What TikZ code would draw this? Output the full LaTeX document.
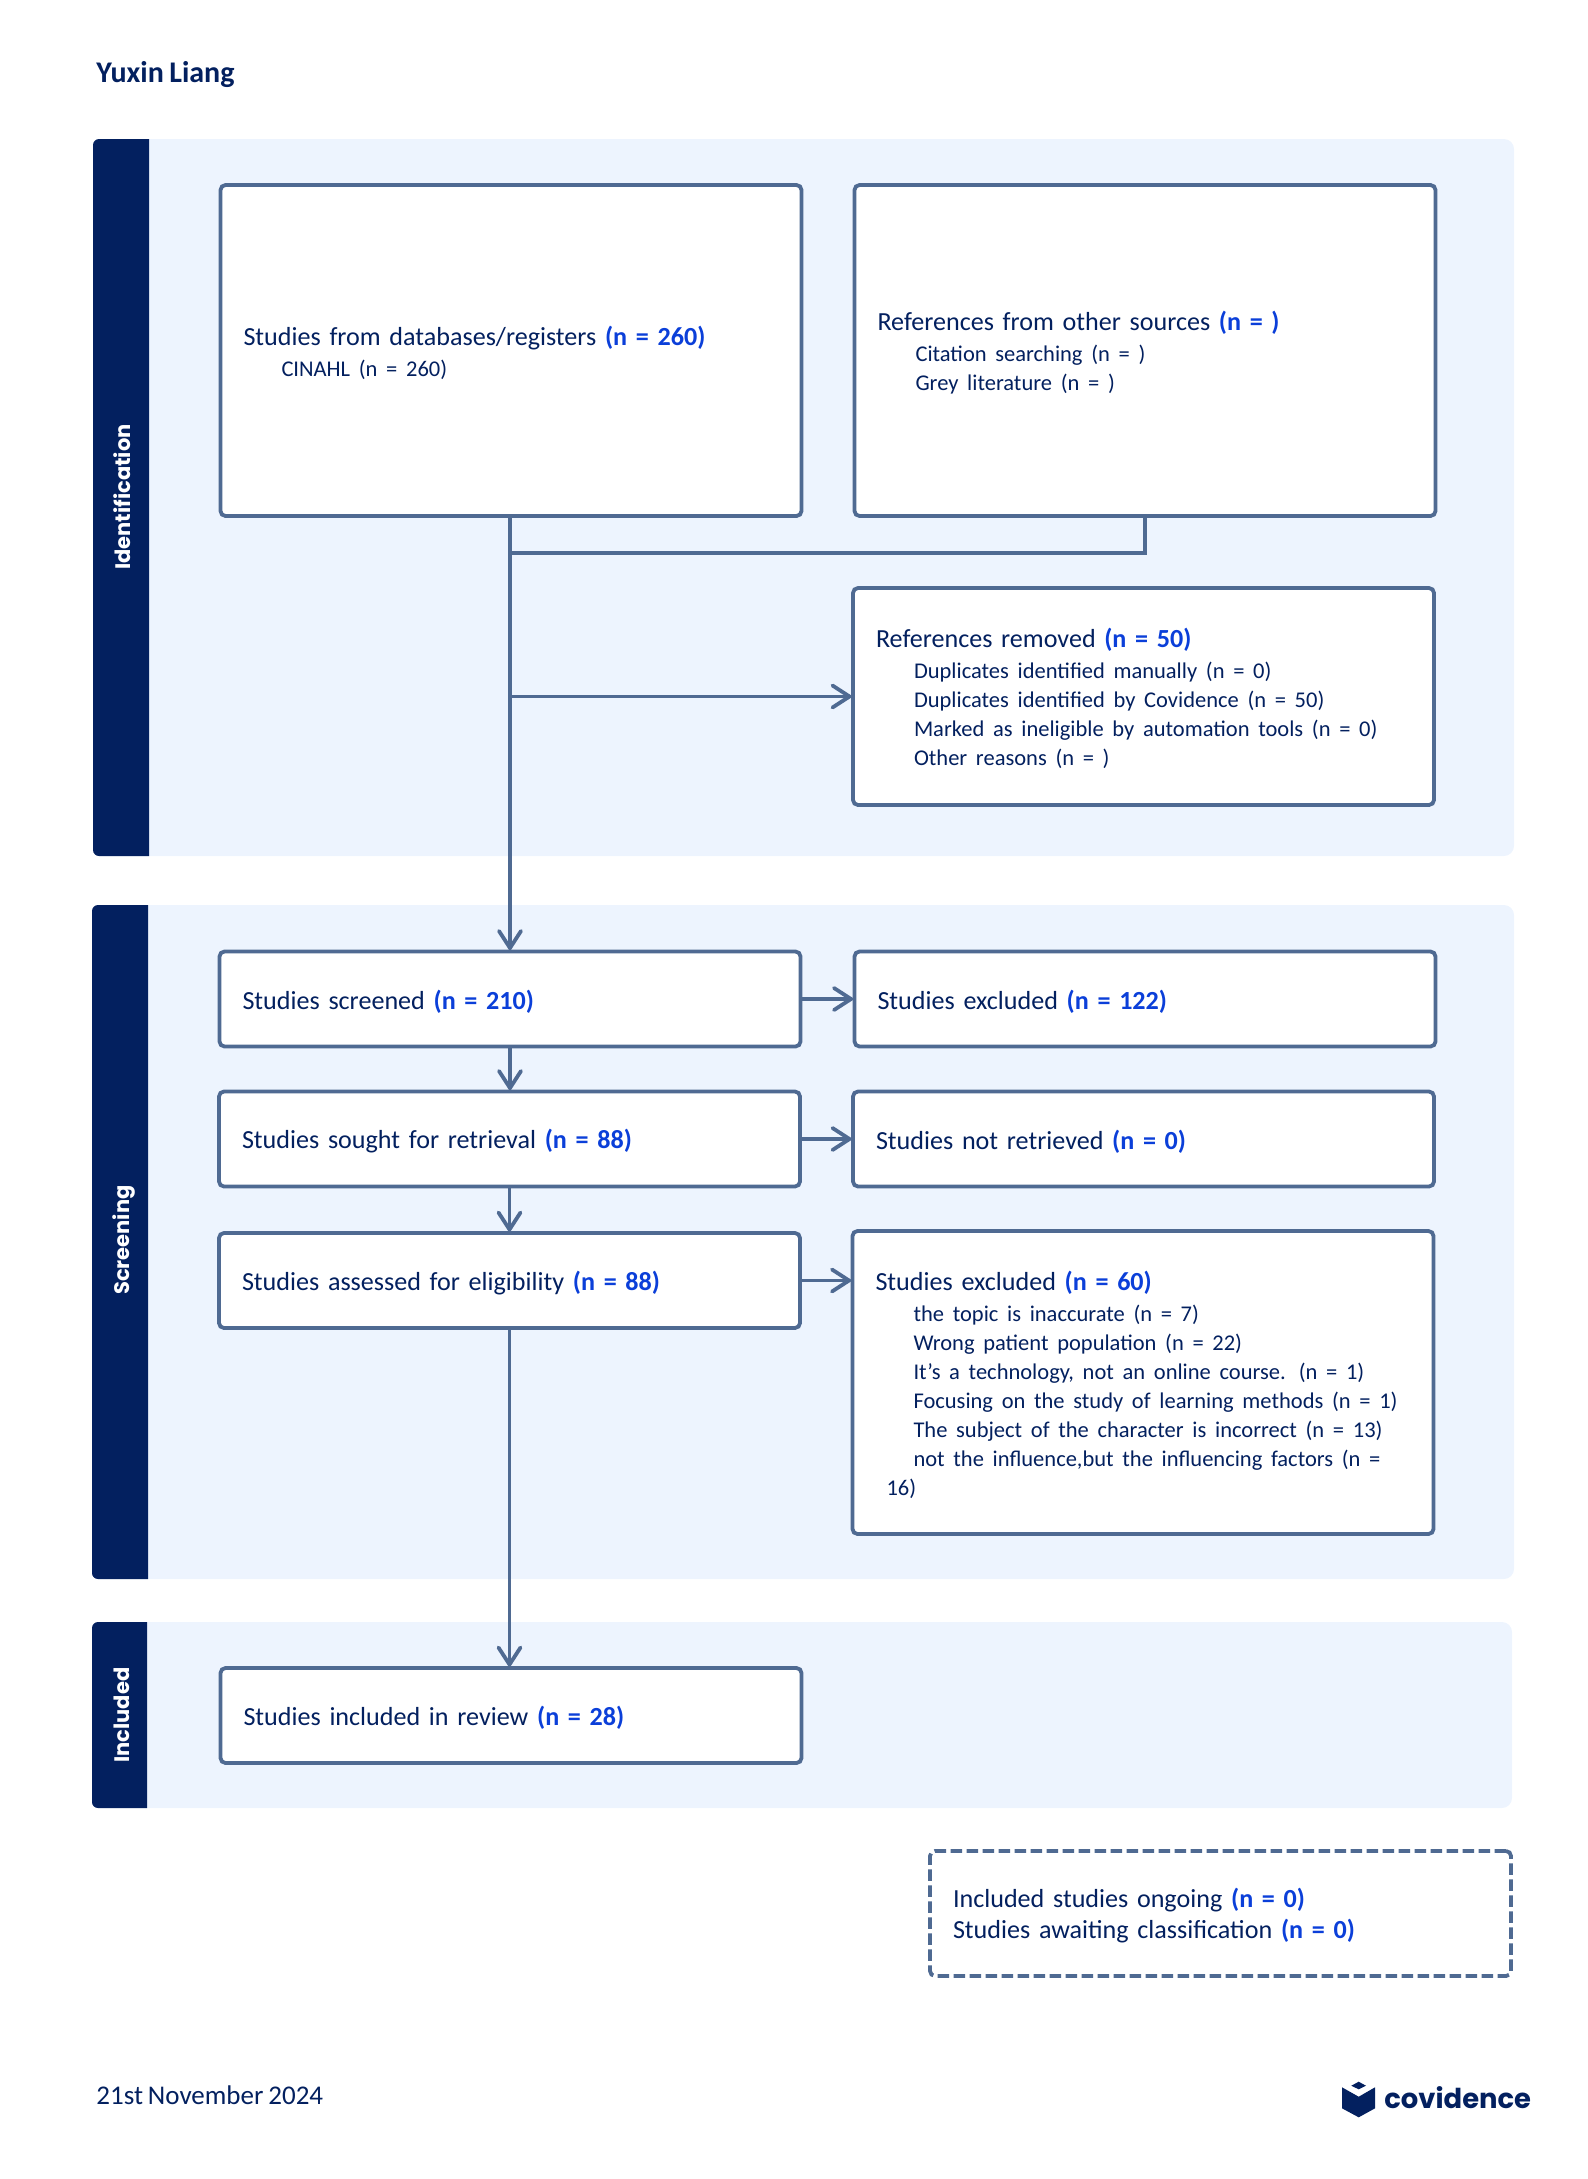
\documentclass[tikz,border=0pt]{standalone}
\usepackage{fontspec}
\setmainfont[WordSpace=0.8]{Carlito}
\newfontfamily\sidefont{Poppins}
\usetikzlibrary{arrows.meta}
\definecolor{navy}{HTML}{03205F}
\definecolor{linecol}{HTML}{4F6A92}
\definecolor{bandcol}{HTML}{EDF4FE}
\definecolor{countblue}{HTML}{0B3FD9}
\newcommand{\mainsize}{\fontsize{13.05}{14.5}\selectfont}
\newcommand{\subsize}{\fontsize{11.25}{14.5}\selectfont}
\newcommand{\nval}[1]{\textcolor{countblue}{\textbf{(n = #1)}}}
\newcommand{\subline}[1]{{\subsize\hspace*{19pt}#1}}
\tikzset{
  box/.style={draw=linecol, line width=1.9pt, rounded corners=2.5pt, fill=white, text=navy,
    font=\mainsize, align=left, text width=267.5pt, inner xsep=11.5pt, inner ysep=0pt, outer sep=0pt,
    execute at begin node=\rule{0pt}{12pt}},
  link/.style={draw=linecol, line width=1.9pt},
  arrow/.style={link, -{Straight Barb[length=8.5pt, width=11pt, line cap=round]}},
  sidelabel/.style={rotate=90, text=white, font=\sidefont\bfseries\fontsize{10.5}{12}\selectfont},
}
\begin{document}
\begin{tikzpicture}[x=0.5pt, y=-0.5pt]
\useasboundingbox (0,0) rectangle (1587,2179);
% header and footer
\node[anchor=base west, inner sep=0pt, text=navy, font=\fontsize{15}{16}\bfseries\selectfont] (author) at (96,82) {Yuxin Liang};
\node[anchor=base west, inner sep=0pt, text=navy, font=\fontsize{13.5}{16}\selectfont] (date) at (96,2104) {21st November 2024};
% bands
\fill[bandcol, rounded corners=5pt] (93,139) rectangle (1514,856);
\fill[bandcol, rounded corners=5pt] (93,905) rectangle (1514,1579);
\fill[bandcol, rounded corners=5pt] (92,1622) rectangle (1512,1808);
\fill[navy] (149,139) [rounded corners=3pt] -- (93,139) -- (93,856) [sharp corners] -- (149,856) -- cycle;
\fill[navy] (148,905) [rounded corners=3pt] -- (92,905) -- (92,1579) [sharp corners] -- (148,1579) -- cycle;
\fill[navy] (147,1622) [rounded corners=3pt] -- (92,1622) -- (92,1808) [sharp corners] -- (147,1808) -- cycle;
\node[sidelabel] (identification) at (122,497) {Identification};
\node[sidelabel] (screening) at (124,1240) {Screening};
\node[sidelabel] (included) at (122,1715) {Included};
% boxes
\node[box, minimum height=165.5pt] (databases) at (511,350.5) {Studies from databases/registers \nval{260}\\[1pt]
  \subline{CINAHL (n = 260)}};
\node[box, minimum height=165.5pt] (others) at (1145,350.5) {References from other sources \nval{}\\[1pt]
  \subline{Citation searching (n = )}\\
  \subline{Grey literature (n = )}};
\node[box, minimum height=108.5pt] (removed) at (1143.5,696.5) {References removed \nval{50}\\[1pt]
  \subline{Duplicates identified manually (n = 0)}\\
  \subline{Duplicates identified by Covidence (n = 50)}\\
  \subline{Marked as ineligible by automation tools (n = 0)}\\
  \subline{Other reasons (n = )}};
\node[box, minimum height=47.5pt] (screened) at (510,999) {Studies screened \nval{210}};
\node[box, minimum height=47.5pt] (excluded) at (1145,999) {Studies excluded \nval{122}};
\node[box, minimum height=47.5pt] (sought) at (509.5,1139) {Studies sought for retrieval \nval{88}};
\node[box, minimum height=47.5pt] (notretrieved) at (1143.5,1139) {Studies not retrieved \nval{0}};
\node[box, minimum height=47.5pt] (assessed) at (509.5,1280.5) {Studies assessed for eligibility \nval{88}};
\node[box, minimum height=151.5pt] (reasons) at (1143,1382.5) {Studies excluded \nval{60}\\[1pt]
  \subline{the topic is inaccurate (n = 7)}\\
  \subline{Wrong patient population (n = 22)}\\
  \subline{It's a technology, not an online course. (n = 1)}\\
  \subline{Focusing on the study of learning methods (n = 1)}\\
  \subline{The subject of the character is incorrect (n = 13)}\\
  \subline{not the influence,but the influencing factors (n =}\\
  {\subsize\hspace*{5.5pt}16)}};
\node[box, minimum height=47.5pt] (review) at (511,1715.5) {Studies included in review \nval{28}};
\node[box, dash pattern=on 5.75pt off 2.25pt, fill=none, minimum height=62.5pt] (ongoing) at (1220.5,1913.5) {Included studies ongoing \nval{0}\\[1pt]
  Studies awaiting classification \nval{0}};
% connectors
\coordinate (merge) at (510,553);
\coordinate (split) at (510,696.5);
\draw[arrow] (databases.south -| screened.north) -- (screened.north);
\draw[link] (others.south) |- (merge);
\draw[arrow] (split) -- (removed.west);
\draw[arrow] (screened.east) -- (excluded.west);
\draw[arrow] (screened.south) -- (screened.south |- sought.north);
\draw[arrow] (sought.east) -- (notretrieved.west);
\draw[arrow] (sought.south) -- (assessed.north);
\draw[arrow] (assessed.east) -- (assessed.east -| reasons.west);
\draw[arrow] (assessed.south) -- (assessed.south |- review.north);
% logo
\fill[navy] (1358.7,2081.7) -- (1366,2085.7) -- (1358.7,2089.3) -- (1351.3,2085.7) -- cycle;
\fill[navy] (1342,2087.3) -- (1358.7,2096.7) -- (1375,2087.3) -- (1375,2108.3) -- (1358.7,2117.3) -- (1342,2108.3) -- cycle;
\node[anchor=west, inner sep=0pt, text=navy, font=\sidefont\bfseries\fontsize{13.7}{18}\selectfont] (brand) at (1384,2098) {covidence};
\end{tikzpicture}
\end{document}
